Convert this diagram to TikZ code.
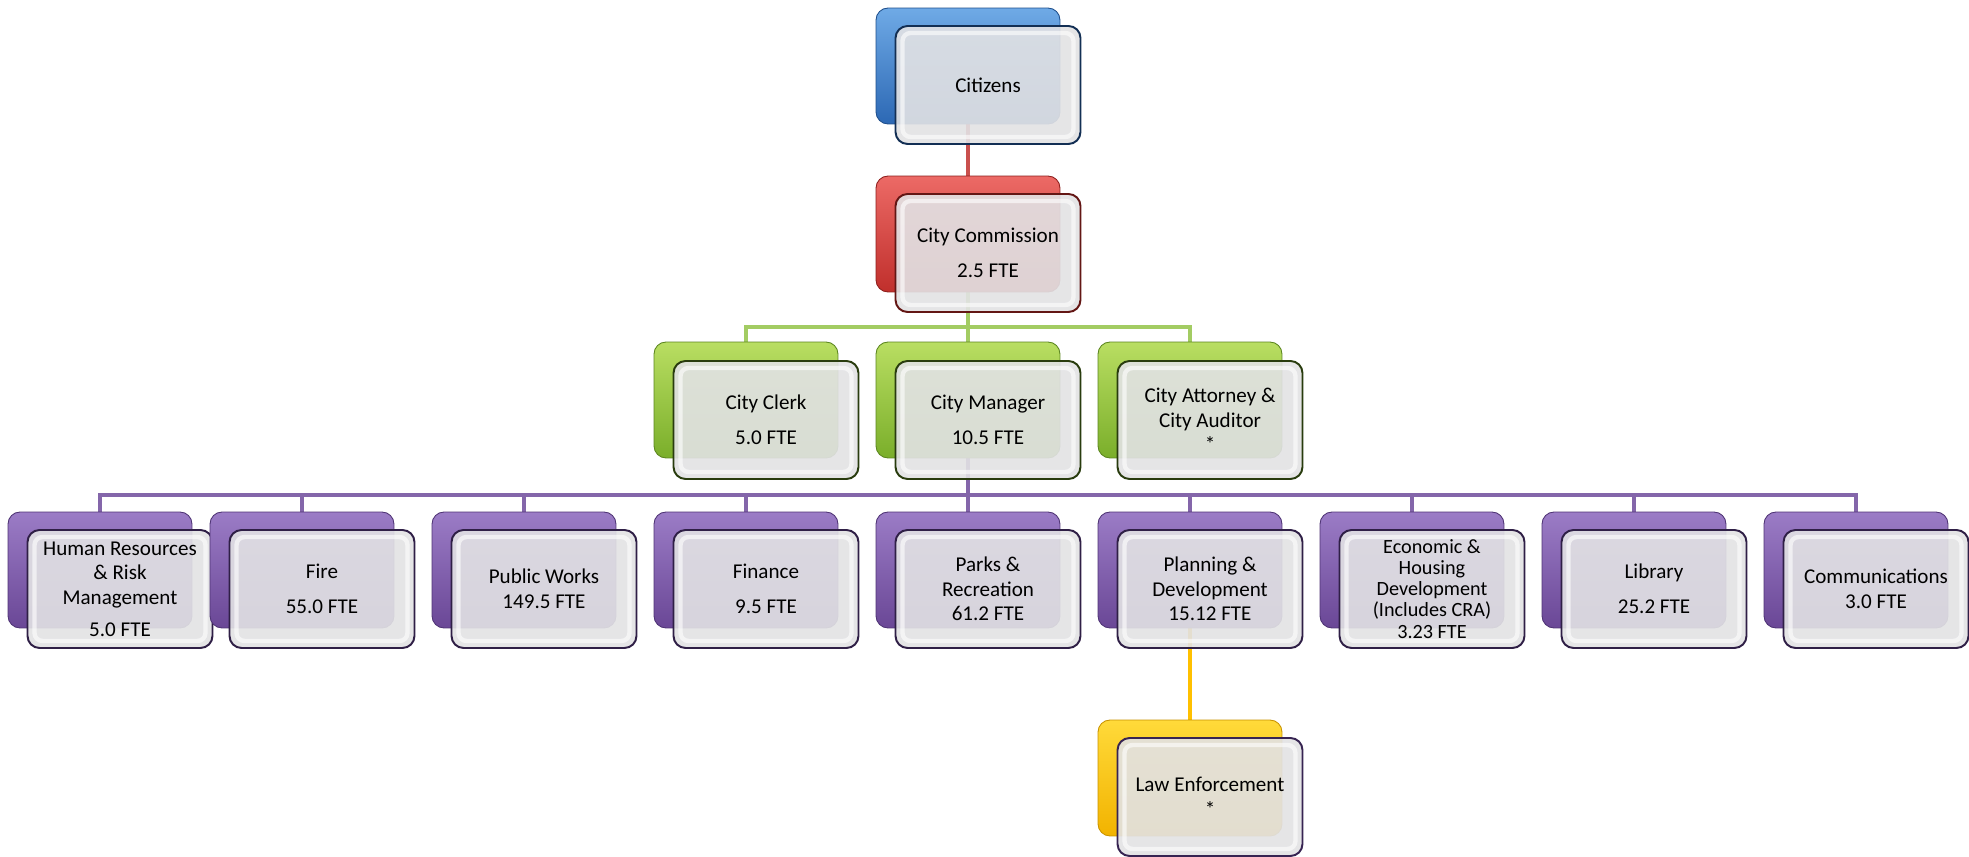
\documentclass[tikz,border=0pt]{standalone}
\usepackage{fontspec}
\setmainfont{Carlito}
\usetikzlibrary{backgrounds}

% card colours
\definecolor{bluetop}{HTML}{6FAAE6}
\definecolor{bluebot}{HTML}{2C68B4}
\definecolor{blueedge}{HTML}{1F4F8C}
\definecolor{redtop}{HTML}{EC6A66}
\definecolor{redbot}{HTML}{C02F2C}
\definecolor{rededge}{HTML}{8E1F1D}
\definecolor{greentop}{HTML}{B9DE62}
\definecolor{greenbot}{HTML}{7AAE2A}
\definecolor{greenedge}{HTML}{5C8620}
\definecolor{purptop}{HTML}{9B7CC6}
\definecolor{purpbot}{HTML}{6A4796}
\definecolor{purpedge}{HTML}{4F3475}
\definecolor{yeltop}{HTML}{FFDA3A}
\definecolor{yelbot}{HTML}{F2B300}
\definecolor{yeledge}{HTML}{C99300}
\definecolor{cardgray}{HTML}{E2E2E4}
% connector colours
\definecolor{redline}{HTML}{C9504D}
\definecolor{greenline}{HTML}{A3CC63}
\definecolor{purpline}{HTML}{8466AA}
\definecolor{yelline}{HTML}{FFC000}

\begin{document}
\begin{tikzpicture}[x=0.02cm, y=-0.02cm,
    every node/.style={font=\fontsize{12}{14}\selectfont, align=center},
    backbox/.style={rounded corners=0.24cm, minimum width=3.68cm, minimum height=2.32cm, inner sep=0pt, line width=0.5pt},
    frontbox/.style={rounded corners=0.24cm, minimum width=3.7cm, minimum height=2.36cm, inner sep=0pt,
        fill=cardgray, fill opacity=0.91, text opacity=1, line width=1.1pt,
        path picture={\draw[white, line width=2.5pt, opacity=0.6, rounded corners=0.16cm]
            ([shift={(0.14cm,-0.14cm)}]path picture bounding box.north west) rectangle
            ([shift={(-0.14cm,0.14cm)}]path picture bounding box.south east);}},
    bluebox/.style={backbox, draw=blueedge, top color=bluetop, bottom color=bluebot},
    redbox/.style={backbox, draw=rededge, top color=redtop, bottom color=redbot},
    greenbox/.style={backbox, draw=greenedge, top color=greentop, bottom color=greenbot},
    purpbox/.style={backbox, draw=purpedge, top color=purptop, bottom color=purpbot},
    yelbox/.style={backbox, draw=yeledge, top color=yeltop, bottom color=yelbot},
    link/.style={line width=2.6pt}]

\useasboundingbox (0,0) rectangle (1969,857);

% top of the chart
\node[bluebox] (citB) at (968,66) {};
\node[frontbox, draw=blueedge!60!black] (cit) at (988,85) {Citizens};

\node[redbox] (comB) at (968,234) {};
\node[frontbox, draw=rededge!70!black] (com) at (988,253) {City Commission\\[6pt]2.5 FTE};

% second row
\node[greenbox] (clerkB) at (746,400) {};
\node[frontbox, draw=greenedge!45!black] (clerk) at (766,420) {City Clerk\\[6pt]5.0 FTE};

\node[greenbox] (manB) at (968,400) {};
\node[frontbox, draw=greenedge!45!black] (man) at (988,420) {City Manager\\[6pt]10.5 FTE};

\node[greenbox] (attB) at (1190,400) {};
\node[frontbox, draw=greenedge!45!black] (att) at (1210,420) {City Attorney \&\\City Auditor\\*};

% departments
\node[purpbox] (hrB) at (100,570) {};
\node[frontbox, draw=purpedge!60!black] (hr) at (120,589) {Human Resources\\\& Risk\\Management\\[4pt]5.0 FTE};

\node[purpbox] (fireB) at (302,570) {};
\node[frontbox, draw=purpedge!60!black] (fire) at (322,589) {Fire\\[6pt]55.0 FTE};

\node[purpbox] (pwB) at (524,570) {};
\node[frontbox, draw=purpedge!60!black] (pw) at (544,589) {Public Works\\149.5 FTE};

\node[purpbox] (finB) at (746,570) {};
\node[frontbox, draw=purpedge!60!black] (fin) at (766,589) {Finance\\[6pt]9.5 FTE};

\node[purpbox] (parksB) at (968,570) {};
\node[frontbox, draw=purpedge!60!black] (parks) at (988,589) {Parks \&\\Recreation\\61.2 FTE};

\node[purpbox] (planB) at (1190,570) {};
\node[frontbox, draw=purpedge!60!black] (plan) at (1210,589) {Planning \&\\Development\\15.12 FTE};

\node[purpbox] (econB) at (1412,570) {};
\node[frontbox, draw=purpedge!60!black, font=\fontsize{11.5}{12}\selectfont] (econ) at (1432,589) {Economic \&\\Housing\\Development\\(Includes CRA)\\3.23 FTE};

\node[purpbox] (libB) at (1634,570) {};
\node[frontbox, draw=purpedge!60!black] (lib) at (1654,589) {Library\\[6pt]25.2 FTE};

\node[purpbox] (commsB) at (1856,570) {};
\node[frontbox, draw=purpedge!60!black] (comms) at (1876,589) {Communications\\3.0 FTE};

% under planning
\node[yelbox] (lawB) at (1190,778) {};
\node[frontbox, draw=purpedge!70!black] (law) at (1210,797) {Law Enforcement\\*};

% connectors sit behind the cards
\begin{scope}[on background layer]
  \coordinate (gbus) at (968,327);
  \coordinate (pbus) at (968,495);

  \draw[link, redline] (citB.center) -- (comB.center);

  \draw[link, greenline] (comB.center) -- (gbus);
  \draw[link, greenline] (clerkB.north) |- (gbus) -| (attB.north);
  \draw[link, greenline] (gbus) -- (manB.north);

  \draw[link, purpline] (manB.center) -- (pbus);
  \draw[link, purpline] (hrB.north) |- (pbus) -| (commsB.north);
  \draw[link, purpline] (fireB.north) -- (fireB.north |- pbus);
  \draw[link, purpline] (pwB.north) -- (pwB.north |- pbus);
  \draw[link, purpline] (finB.north) -- (finB.north |- pbus);
  \draw[link, purpline] (parksB.north) -- (parksB.north |- pbus);
  \draw[link, purpline] (planB.north) -- (planB.north |- pbus);
  \draw[link, purpline] (econB.north) -- (econB.north |- pbus);
  \draw[link, purpline] (libB.north) -- (libB.north |- pbus);

  \draw[link, yelline] (planB.center) -- (lawB.center);
\end{scope}
\end{tikzpicture}
\end{document}
